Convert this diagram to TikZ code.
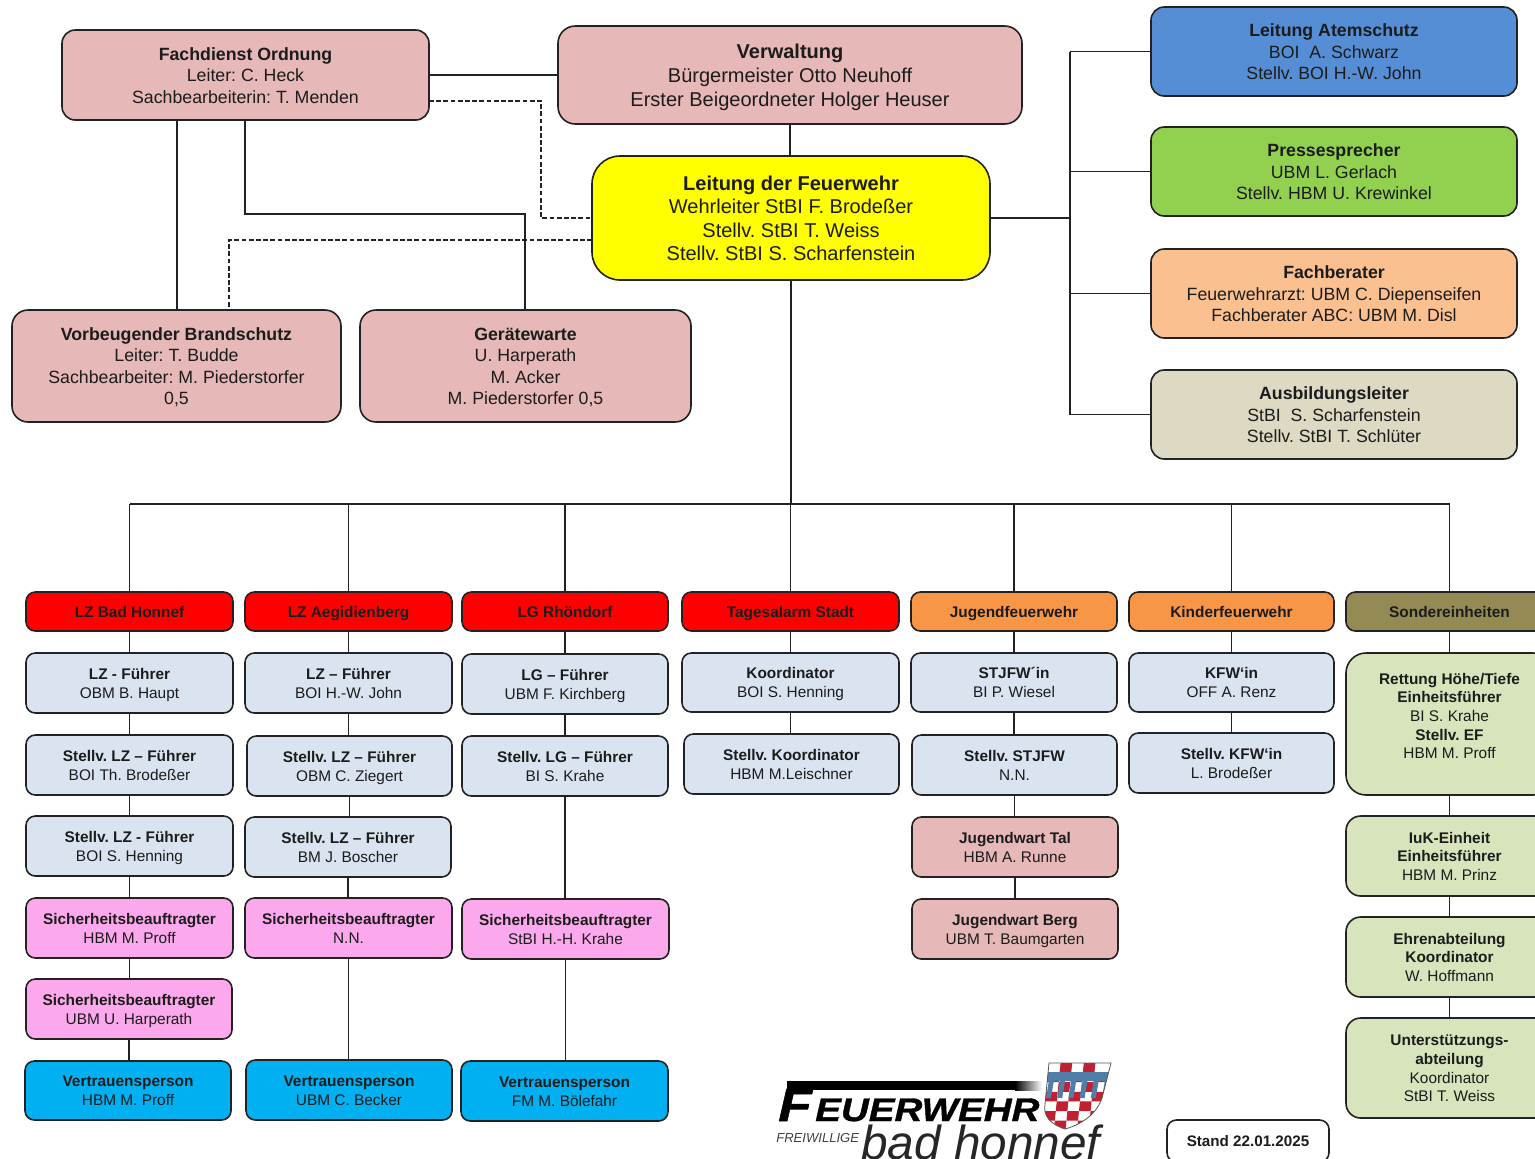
\documentclass[tikz,border=0pt]{standalone}
\usepackage{fontspec}
\setmainfont{Liberation Sans}
\newfontface\logoface[FakeBold=1.2,FakeStretch=1.18]{Liberation Sans Bold Italic}
\usetikzlibrary{calc}
\definecolor{rosa}{HTML}{E6B8B7}
\definecolor{hell}{HTML}{DAE4F0}
\definecolor{pinkb}{HTML}{FCA8EC}
\definecolor{cyanb}{HTML}{00B0F0}
\definecolor{gruen}{HTML}{D7E4BC}
\definecolor{ink}{HTML}{1C1C1C}
\definecolor{linec}{HTML}{222222}
\definecolor{shred}{HTML}{C02030}
\definecolor{shblue}{HTML}{4F7FA8}
\definecolor{gelb}{RGB}{255,255,0}
\definecolor{rot}{RGB}{255,0,0}
\tikzset{
  x=0.75pt,y=-0.75pt,
  boxb/.style={draw=linec,line width=1.2pt,align=center,inner sep=0pt,text=ink,rounded corners=10.5pt,font=\fontsize{11.55}{14.1}\selectfont,
    execute at begin node={\frenchspacing}},
  boxs/.style={boxb,rounded corners=7pt},
  boxt/.style={boxb,rounded corners=10pt,font=\fontsize{13.3}{16.1}\selectfont},
  boxv/.style={boxb,rounded corners=13pt,font=\fontsize{15}{18}\selectfont},
  boxl/.style={boxb,rounded corners=21pt,font=\fontsize{15}{17.6}\selectfont},
  boxr/.style={boxb,rounded corners=12pt,font=\fontsize{13.3}{16}\selectfont},
  head/.style={boxs,font=\bfseries\fontsize{11.55}{14}\selectfont},
  smallb/.style={boxs,font=\fontsize{11.55}{14}\selectfont},
  con/.style={draw=linec,line width=1.15pt},
  dashline/.style={draw=linec,line width=1pt,dash pattern=on 3.6pt off 1.8pt},
}
% \bx{name}{x1}{y1}{x2}{y2}{style}{text}
\newcommand{\bx}[7]{\node[#6,minimum width={(#4-#2)*0.75pt},minimum height={(#5-#3)*0.75pt}] (#1) at ({(#2+#4)/2},{(#3+#5)/2}) {\rule{0pt}{0.95em}#7\vphantom{g}};}
\begin{document}
\begin{tikzpicture}
\useasboundingbox (0,0) rectangle (1535,1158);
\begin{scope}
\clip (0,0) rectangle (1535,1158);
% top group
\bx{fd}{62}{30}{429}{120}{boxt,fill=rosa}{\textbf{Fachdienst Ordnung}\\Leiter: C. Heck\\Sachbearbeiterin: T. Menden}
\bx{verw}{558}{26}{1022}{124}{boxv,fill=rosa}{\textbf{Verwaltung}\\Bürgermeister Otto Neuhoff\\Erster Beigeordneter Holger Heuser}
\bx{leit}{592}{156}{990}{280}{boxl,fill=gelb}{\textbf{Leitung der Feuerwehr}\\Wehrleiter StBI F. Brodeßer\\Stellv. StBI T. Weiss\\Stellv. StBI S. Scharfenstein}
\bx{vb}{12}{310}{341}{422}{boxr,fill=rosa}{\textbf{Vorbeugender Brandschutz}\\Leiter: T. Budde\\Sachbearbeiter: M. Piederstorfer\\0,5}
\bx{gw}{360}{310}{691}{422}{boxr,fill=rosa}{\textbf{Gerätewarte}\\U. Harperath\\M. Acker\\M. Piederstorfer 0,5}
\bx{atem}{1151}{7}{1517}{96}{boxt,fill={rgb,255:red,85;green,142;blue,213}}{\textbf{Leitung Atemschutz}\\BOI\ \ A. Schwarz\\Stellv. BOI H.-W. John}
\bx{presse}{1151}{127}{1517}{216}{boxt,fill={rgb,255:red,146;green,208;blue,80}}{\textbf{Pressesprecher}\\UBM L. Gerlach\\Stellv. HBM U. Krewinkel}
\bx{fach}{1151}{249}{1517}{338}{boxt,fill={rgb,255:red,250;green,192;blue,144}}{\textbf{Fachberater}\\Feuerwehrarzt: UBM C. Diepenseifen\\Fachberater ABC: UBM M. Disl}
\bx{ausb}{1151}{370}{1517}{459}{boxt,fill={rgb,255:red,221;green,217;blue,195}}{\textbf{Ausbildungsleiter}\\StBI\ \ S. Scharfenstein\\Stellv. StBI T. Schlüter}
% headers
\bx{h1}{26}{592}{233}{631}{head,fill=rot}{LZ Bad Honnef}
\bx{h2}{245}{592}{452}{631}{head,fill=rot}{LZ Aegidienberg}
\bx{h3}{462}{592}{668}{631}{head,fill=rot}{LG Rhöndorf}
\bx{h4}{682}{592}{899}{631}{head,fill=rot}{Tagesalarm Stadt}
\bx{h5}{911}{592}{1117}{631}{head,fill={rgb,255:red,247;green,150;blue,70}}{Jugendfeuerwehr}
\bx{h6}{1129}{592}{1334}{631}{head,fill={rgb,255:red,247;green,150;blue,70}}{Kinderfeuerwehr}
\bx{h7}{1346}{592}{1553}{631}{head,fill={rgb,255:red,148;green,138;blue,84}}{Sondereinheiten}
% col 1
\bx{a1}{26}{653}{233}{713}{smallb,fill=hell}{\textbf{LZ - Führer}\\OBM B. Haupt}
\bx{a2}{26}{735}{233}{795}{smallb,fill=hell}{\textbf{Stellv. LZ – Führer}\\BOI Th. Brodeßer}
\bx{a3}{26}{816}{233}{876}{smallb,fill=hell}{\textbf{Stellv. LZ - Führer}\\BOI S. Henning}
\bx{a4}{26}{898}{233}{958}{smallb,fill=pinkb}{\textbf{Sicherheitsbeauftragter}\\HBM M. Proff}
\bx{a5}{26}{979}{232}{1039}{smallb,fill=pinkb}{\textbf{Sicherheitsbeauftragter}\\UBM U. Harperath}
\bx{a6}{25}{1061}{231}{1120}{smallb,fill=cyanb}{\textbf{Vertrauensperson}\\HBM M. Proff}
% col 2
\bx{b1}{245}{653}{452}{713}{smallb,fill=hell}{\textbf{LZ – Führer}\\BOI H.-W. John}
\bx{b2}{247}{736}{452}{796}{smallb,fill=hell}{\textbf{Stellv. LZ – Führer}\\OBM C. Ziegert}
\bx{b3}{245}{817}{451}{877}{smallb,fill=hell}{\textbf{Stellv. LZ – Führer}\\BM J. Boscher}
\bx{b4}{245}{898}{452}{958}{smallb,fill=pinkb}{\textbf{Sicherheitsbeauftragter}\\N.N.}
\bx{b5}{246}{1060}{452}{1120}{smallb,fill=cyanb}{\textbf{Vertrauensperson}\\UBM C. Becker}
% col 3
\bx{c1}{462}{654}{668}{714}{smallb,fill=hell}{\textbf{LG – Führer}\\UBM F. Kirchberg}
\bx{c2}{462}{736}{668}{796}{smallb,fill=hell}{\textbf{Stellv. LG – Führer}\\BI S. Krahe}
\bx{c4}{462}{899}{669}{959}{smallb,fill=pinkb}{\textbf{Sicherheitsbeauftragter}\\StBI H.-H. Krahe}
\bx{c5}{461}{1061}{668}{1121}{smallb,fill=cyanb}{\textbf{Vertrauensperson}\\FM M. Bölefahr}
% col 4
\bx{d1}{682}{653}{899}{712}{smallb,fill=hell}{\textbf{Koordinator}\\BOI S. Henning}
\bx{d2}{684}{734}{899}{794}{smallb,fill=hell}{\textbf{Stellv. Koordinator}\\HBM M.Leischner}
% col 5
\bx{e1}{911}{653}{1117}{712}{smallb,fill=hell}{\textbf{STJFW´in}\\BI P. Wiesel}
\bx{e2}{912}{735}{1117}{795}{smallb,fill=hell}{\textbf{Stellv. STJFW}\\N.N.}
\bx{e3}{912}{817}{1118}{877}{smallb,fill=rosa}{\textbf{Jugendwart Tal}\\HBM A. Runne}
\bx{e4}{912}{899}{1118}{959}{smallb,fill=rosa}{\textbf{Jugendwart Berg}\\UBM T. Baumgarten}
% col 6
\bx{f1}{1129}{653}{1334}{712}{smallb,fill=hell}{\textbf{KFW‘in}\\OFF A. Renz}
\bx{f2}{1129}{733}{1334}{793}{smallb,fill=hell}{\textbf{Stellv. KFW‘in}\\L. Brodeßer}
% col 7
\bx{g1}{1346}{653}{1553}{795}{smallb,rounded corners=15pt,fill=gruen}{\textbf{Rettung Höhe/Tiefe}\\\textbf{Einheitsführer}\\BI S. Krahe\\\textbf{Stellv. EF}\\HBM M. Proff\\[-1.5pt]\ }
\bx{g2}{1346}{816}{1553}{896}{smallb,rounded corners=11pt,fill=gruen}{\textbf{IuK-Einheit}\\\textbf{Einheitsführer}\\HBM M. Prinz}
\bx{g3}{1346}{917}{1553}{997}{smallb,rounded corners=11pt,fill=gruen}{\textbf{Ehrenabteilung}\\\textbf{Koordinator}\\W. Hoffmann}
\bx{g4}{1346}{1018}{1553}{1118}{smallb,rounded corners=11pt,fill=gruen}{\textbf{Unterstützungs-}\\\textbf{abteilung}\\Koordinator\\StBI T. Weiss}
% stand
\bx{stand}{1167}{1120}{1329}{1162}{smallb,fill=white,font=\bfseries\fontsize{11.4}{14}\selectfont}{Stand 22.01.2025}
% connector points
\coordinate (rb) at (1070,218);
\coordinate (bus) at (790,504);
\coordinate (d1a) at (541,218);
\coordinate (d1b) at (429,101);
\coordinate (d2a) at (592,240);
\coordinate (d2b) at (229,310);
\coordinate (s1) at (177,120);
\coordinate (s1b) at (177,310);
\coordinate (s2) at (245,214);
\coordinate (s3) at (525,214);
% top connectors
\draw[con] (fd.east) -- (fd.east -| verw.west);
\draw[con] (verw.south) -- (verw.south |- leit.north);
\draw[con] (leit.south) -- (leit.south |- bus);
\draw[con] (leit.east |- rb) -- (rb);
\draw[con] (rb |- atem.west) -- (rb |- ausb.west);
\foreach \n in {atem,presse,fach,ausb} \draw[con] (rb |- \n.west) -- (\n.west);
\draw[con] (s1) -- (s1b);
\draw[con] (fd.south -| s2) -- (s2) -- (s3) -- (s3 |- gw.north);
\draw[dashline] (d1b) -- (d1b -| d1a) -- (d1a) -- (d1a -| leit.west);
\draw[dashline] (d2a) -- (d2a -| d2b) -- (d2b);
% bus
\draw[con] (h1.north |- bus) -- (h7.north |- bus);
\foreach \n in {h1,h2,h3,h4,h5,h6,h7} \draw[con] (\n.north |- bus) -- (\n.north);
% column verticals
\foreach \p/\q in {h1/a1,a1/a2,a2/a3,a3/a4,a4/a5,a5/a6,h2/b1,b1/b2,b2/b3,b3/b4,b4/b5,h3/c1,c1/c2,c2/c4,c4/c5,h4/d1,d1/d2,h5/e1,e1/e2,e2/e3,e3/e4,h6/f1,f1/f2,h7/g1,g1/g2,g2/g3,g3/g4}
  \draw[con] (\p.south) -- (\p.south |- \q.north);
% logo
\fill[black] (787,1081) rectangle (1015,1090);
\shade[left color=black,right color=white] (1015,1081) rectangle (1042,1090);
\node[inner sep=0pt,anchor=base west,font=\logoface\fontsize{35}{35}\selectfont,text=black] (lf) at (778,1121) {F};
\node[inner sep=0pt,anchor=base west,font=\logoface\fontsize{24.5}{24}\selectfont,text=black] (le) at (815,1121) {EUERWEHR};
\node[inner sep=0pt,anchor=base west,font=\itshape\fontsize{9.8}{10}\selectfont,text=black!75] (lg) at (776,1142) {FREIWILLIGE};
\node[inner sep=0pt,anchor=base west,font=\itshape\fontsize{35.8}{36}\selectfont,text=black!85] (lb) at (861,1159) {bad honnef};
% shield
\begin{scope}
\clip (1049,1063) -- (1111,1063) -- (1102,1098) .. controls (1097,1113) and (1083,1124) .. (1065,1129) .. controls (1050,1124) and (1043,1116) .. (1045,1104) -- cycle;
\fill[white] (1040,1060) rectangle (1115,1132);
\foreach \i/\j in {1/0,3/0,0/1,2/1,4/1,1/2,3/2,0/3,2/3,4/3,1/4,3/4,0/5,2/5,4/5,1/6,3/6}
  \fill[shred] ({1049+\i*11.6-(\j*9.6)*0.1},{1063+\j*9.6}) -- ++(11.6,0) -- ++(-1,9.6) -- ++(-11.6,0) -- cycle;
\fill[shblue] (1047,1072) -- (1112,1072) -- (1110,1081) -- (1045,1081) -- cycle;
\foreach \i in {0,1,2,3,4,5} \fill[shblue] ({1049+\i*11.2},1080) -- ++(5,0) -- ++(-3,18) -- ++(-5,0) -- cycle;
\end{scope}
\draw[gray!70!black,line width=0.6pt] (1049,1063) -- (1111,1063) -- (1102,1098) .. controls (1097,1113) and (1083,1124) .. (1065,1129) .. controls (1050,1124) and (1043,1116) .. (1045,1104) -- cycle;
\end{scope}
\end{tikzpicture}
\end{document}
